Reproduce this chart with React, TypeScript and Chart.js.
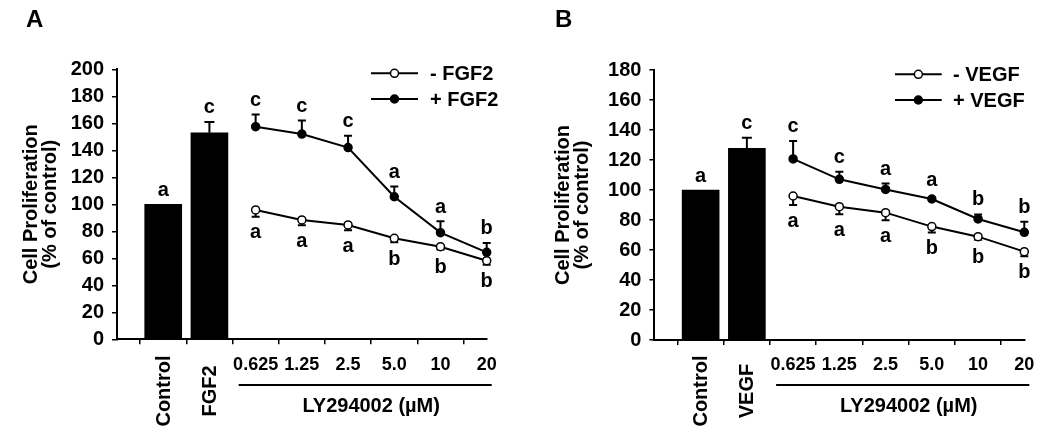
import React, { useEffect, useRef } from 'react';
import { Chart, registerables } from 'chart.js';

Chart.register(...registerables);

// ---------- data ----------
const DOSES = ['0.625', '1.25', '2.5', '5.0', '10', '20'];

const BAR_LABELS_A = ['Control', 'FGF2'];
const BAR_VALUES_A = [100, 153];
const BAR_ERR_A = [0, 8];
const BAR_LETTERS_A = ['a', 'c'];
const PLUS_A = [157.5, 152, 142, 105.6, 79, 64.4];
const PLUS_ERR_A = [9, 10, 8.7, 7.5, 8.5, 7];
const PLUS_LETTERS_A = ['c', 'c', 'c', 'a', 'a', 'b'];
const MINUS_A = [95.8, 88.4, 84.7, 74.8, 68.6, 58.2];
const MINUS_ERR_A = [5, 4, 4, 3, 2, 3];
const MINUS_LETTERS_A = ['a', 'a', 'a', 'b', 'b', 'b'];
const LEGEND_A = ['- FGF2', '+ FGF2'];

const BAR_LABELS_B = ['Control', 'VEGF'];
const BAR_VALUES_B = [100, 127.8];
const BAR_ERR_B = [0, 7];
const BAR_LETTERS_B = ['a', 'c'];
const PLUS_B = [120.7, 107.1, 100.4, 94, 80.7, 71.8];
const PLUS_ERR_B = [12, 5, 4, 1, 3, 7];
const PLUS_LETTERS_B = ['c', 'c', 'a', 'a', 'b', 'b'];
const MINUS_B = [96, 88.9, 84.9, 75.6, 68.9, 58.9];
const MINUS_ERR_B = [6, 5, 5, 4, 2, 3];
const MINUS_LETTERS_B = ['a', 'a', 'a', 'b', 'b', 'b'];
const LEGEND_B = ['- VEGF', '+ VEGF'];

const Y_TITLE = ['Cell Proliferation', '(% of control)'];
const X_GROUP_TITLE = 'LY294002 (\u00B5M)';

const FONT = '"Liberation Sans", Arial, Helvetica, sans-serif';
const W = 525;
const H = 431;

type Panel = {
  letter: string;
  barLabels: string[];
  bars: number[];
  barErr: number[];
  barLetters: string[];
  plus: number[];
  plusErr: number[];
  plusLetters: string[];
  minus: number[];
  minusErr: number[];
  minusLetters: string[];
  legend: string[];
  yMax: number;
  // layout
  left: number;
  right: number;
  top: number;
  bottom: number;
  titleX: number[];
  legLine: number[];
  legText: number;
  legY: number[];
  letterX: number;
};

const PANEL_A: Panel = {
  letter: 'A',
  barLabels: BAR_LABELS_A,
  bars: BAR_VALUES_A,
  barErr: BAR_ERR_A,
  barLetters: BAR_LETTERS_A,
  plus: PLUS_A,
  plusErr: PLUS_ERR_A,
  plusLetters: PLUS_LETTERS_A,
  minus: MINUS_A,
  minusErr: MINUS_ERR_A,
  minusLetters: MINUS_LETTERS_A,
  legend: LEGEND_A,
  yMax: 200,
  left: 117,
  right: 486.7,
  top: 69.3,
  bottom: 339.3,
  titleX: [31, 50],
  legLine: [371, 418],
  legText: 430,
  legY: [73.3, 99],
  letterX: 26,
};

const PANEL_B: Panel = {
  letter: 'B',
  barLabels: BAR_LABELS_B,
  bars: BAR_VALUES_B,
  barErr: BAR_ERR_B,
  barLetters: BAR_LETTERS_B,
  plus: PLUS_B,
  plusErr: PLUS_ERR_B,
  plusLetters: PLUS_LETTERS_B,
  minus: MINUS_B,
  minusErr: MINUS_ERR_B,
  minusLetters: MINUS_LETTERS_B,
  legend: LEGEND_B,
  yMax: 180,
  left: 129.4,
  right: 499.3,
  top: 70,
  bottom: 340,
  titleX: [38, 57],
  legLine: [370, 416.7],
  legText: 428,
  legY: [74.3, 100],
  letterX: 30,
};

function makePlugin(p: Panel) {
  return {
    id: 'annot' + p.letter,
    beforeDatasetsDraw(chart: any) {
      const ctx = chart.ctx;
      const xs = chart.scales.x;
      const ys = chart.scales.y;
      ctx.save();
      ctx.strokeStyle = '#000';
      ctx.lineWidth = 2;
      const err = (i: number, v: number, e: number, dir: number, cap: number) => {
        if (!e) return;
        const x = xs.getPixelForValue(i);
        const y0 = ys.getPixelForValue(v);
        const y1 = ys.getPixelForValue(v + dir * e);
        ctx.beginPath();
        ctx.moveTo(x, y0);
        ctx.lineTo(x, y1);
        ctx.moveTo(x - cap / 2, y1);
        ctx.lineTo(x + cap / 2, y1);
        ctx.stroke();
      };
      p.bars.forEach((v, k) => err(k + 1, v, p.barErr[k], 1, 10));
      p.plus.forEach((v, k) => err(k + 3, v, p.plusErr[k], 1, 8));
      p.minus.forEach((v, k) => err(k + 3, v, p.minusErr[k], -1, 8));
      ctx.restore();
    },
    afterDraw(chart: any) {
      const ctx = chart.ctx;
      const xs = chart.scales.x;
      const ys = chart.scales.y;
      const area = chart.chartArea;
      ctx.save();
      ctx.fillStyle = '#000';
      ctx.strokeStyle = '#000';
      ctx.font = `bold 20px ${FONT}`;
      ctx.textAlign = 'center';
      ctx.textBaseline = 'middle';

      // significance letters
      p.bars.forEach((v, k) => {
        const x = xs.getPixelForValue(k + 1);
        const y = ys.getPixelForValue(v + p.barErr[k]) - 14;
        ctx.fillText(p.barLetters[k], x, y);
      });
      p.plus.forEach((v, k) => {
        const x = xs.getPixelForValue(k + 3);
        const y = Math.min(ys.getPixelForValue(v + p.plusErr[k]), ys.getPixelForValue(v) - 5) - 14;
        ctx.fillText(p.plusLetters[k], x, y);
      });
      p.minus.forEach((v, k) => {
        const x = xs.getPixelForValue(k + 3);
        const y = Math.max(ys.getPixelForValue(v - p.minusErr[k]), ys.getPixelForValue(v) + 5) + 16;
        ctx.fillText(p.minusLetters[k], x, y);
      });

      // x labels
      p.barLabels.forEach((lab, k) => {
        const x = xs.getPixelForValue(k + 1);
        ctx.save();
        ctx.translate(x, 391);
        ctx.rotate(-Math.PI / 2);
        ctx.fillText(lab, 0, 1);
        ctx.restore();
      });
      ctx.font = `bold 18px ${FONT}`;
      DOSES.forEach((lab, k) => {
        ctx.fillText(lab, xs.getPixelForValue(k + 3), 365);
      });
      ctx.font = `bold 20px ${FONT}`;
      const x0 = xs.getPixelForValue(3);
      const x1 = xs.getPixelForValue(8);
      ctx.lineWidth = 2;
      ctx.beginPath();
      ctx.moveTo(x0 - 17, 385);
      ctx.lineTo(x1 + 5, 385);
      ctx.stroke();
      ctx.fillText(X_GROUP_TITLE, (x0 + x1) / 2, 406);

      // y title
      const cy = (area.top + area.bottom) / 2;
      Y_TITLE.forEach((t, k) => {
        ctx.save();
        ctx.translate(p.titleX[k], cy);
        ctx.rotate(-Math.PI / 2);
        ctx.fillText(t, 0, 0);
        ctx.restore();
      });

      // legend
      const mx = (p.legLine[0] + p.legLine[1]) / 2;
      p.legend.forEach((t, k) => {
        const y = p.legY[k];
        ctx.lineWidth = 2;
        ctx.beginPath();
        ctx.moveTo(p.legLine[0], y);
        ctx.lineTo(p.legLine[1], y);
        ctx.stroke();
        ctx.beginPath();
        ctx.arc(mx, y, 4, 0, Math.PI * 2);
        ctx.fillStyle = k === 0 ? '#fff' : '#000';
        ctx.fill();
        ctx.lineWidth = 1.5;
        ctx.stroke();
        ctx.fillStyle = '#000';
        ctx.textAlign = 'left';
        ctx.fillText(t, p.legText, y + 1);
        ctx.textAlign = 'center';
      });

      // panel letter
      ctx.font = `bold 24px ${FONT}`;
      ctx.textAlign = 'left';
      ctx.textBaseline = 'alphabetic';
      ctx.fillText(p.letter, p.letterX, 27);
      ctx.restore();
    },
  };
}

function makeConfig(p: Panel): any {
  const labels = ['', ...p.barLabels, ...DOSES];
  const barData = [null, ...p.bars, ...DOSES.map(() => null)];
  const plusData = [null, null, null, ...p.plus];
  const minusData = [null, null, null, ...p.minus];
  return {
    type: 'bar',
    data: {
      labels,
      datasets: [
        {
          type: 'line',
          data: minusData,
          borderColor: '#000',
          borderWidth: 2,
          pointRadius: 4,
          pointBackgroundColor: '#fff',
          pointBorderColor: '#000',
          pointBorderWidth: 1.5,
          order: 1,
        },
        {
          type: 'line',
          data: plusData,
          borderColor: '#000',
          borderWidth: 2,
          pointRadius: 4,
          pointBackgroundColor: '#000',
          pointBorderColor: '#000',
          pointBorderWidth: 1.5,
          order: 2,
        },
        {
          type: 'bar',
          data: barData,
          backgroundColor: '#000',
          borderWidth: 0,
          barThickness: 37,
          order: 3,
        },
      ],
    },
    options: {
      responsive: false,
      animation: false,
      events: [],
      layout: { padding: { left: 0, top: p.top, right: W - p.right, bottom: 0 } },
      plugins: { legend: { display: false }, tooltip: { enabled: false } },
      scales: {
        x: {
          type: 'category',
          offset: false,
          grid: { display: true, drawOnChartArea: false, drawTicks: true, tickLength: 5, color: '#000', lineWidth: 1.5 },
          border: { display: true, color: '#000', width: 2 },
          ticks: { display: false },
          afterFit: (s: any) => {
            s.height = H - p.bottom;
          },
        },
        y: {
          min: 0,
          max: p.yMax,
          grid: { display: true, drawOnChartArea: false, drawTicks: true, tickLength: 5, color: '#000', lineWidth: 1.5 },
          border: { display: true, color: '#000', width: 2 },
          ticks: { stepSize: 20, color: '#000', padding: 8, font: { family: FONT, weight: 'bold', size: 20 } },
          afterFit: (s: any) => {
            s.width = p.left;
          },
        },
      },
    },
    plugins: [makePlugin(p)],
  };
}

function PanelChart({ panel, left }: { panel: Panel; left: number }) {
  const ref = useRef<HTMLCanvasElement | null>(null);
  useEffect(() => {
    if (!ref.current) return;
    const chart = new Chart(ref.current, makeConfig(panel));
    return () => chart.destroy();
  }, [panel]);
  return (
    <canvas
      ref={ref}
      width={W}
      height={H}
      style={{ position: 'absolute', left, top: 0, width: W, height: H }}
    />
  );
}

export default function App() {
  return (
    <div style={{ position: 'absolute', left: 0, top: 0, width: 1050, height: 431, background: '#fff', overflow: 'hidden' }}>
      <PanelChart panel={PANEL_A} left={0} />
      <PanelChart panel={PANEL_B} left={525} />
    </div>
  );
}
